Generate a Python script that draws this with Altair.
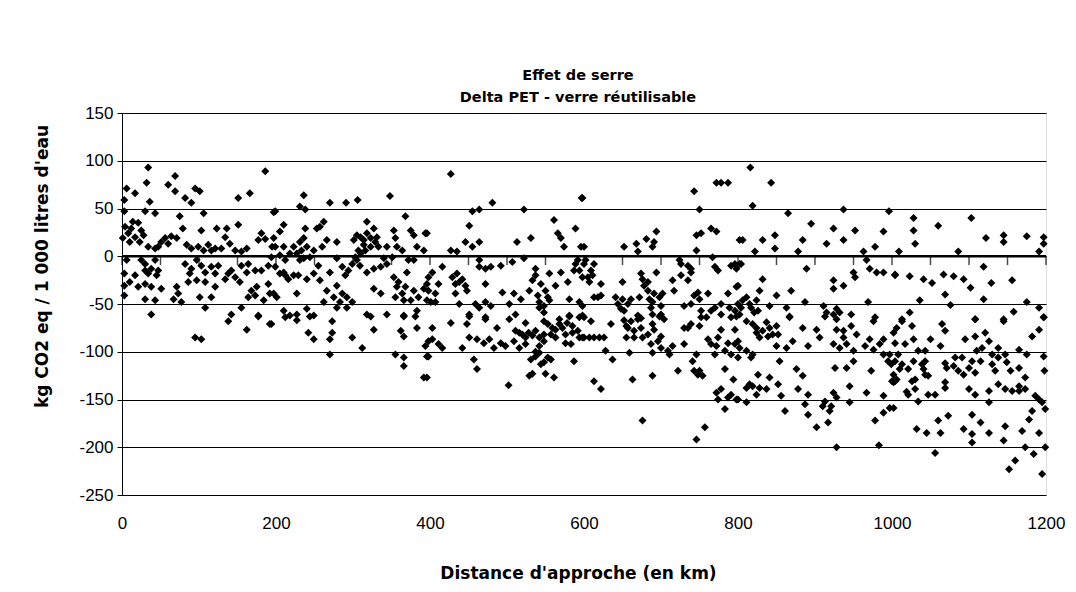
import altair as alt
import pandas as pd

# Distance d'approche (km) and greenhouse delta (kg CO2 eq / 1 000 l), PET minus reusable glass
distance_km = [
    34, 186, 69, 32, 6, 17, 60, 69, 95, 101, 82, 151, 166, 36, 3, 90, 197, 3, 30, 43,
    75, 79, 106, 21, 12, 25, 8, 17, 1, 103, 123, 136, 151, 56, 64, 60, 51, 134, 140, 181,
    177, 186, 34, 43, 90, 99, 112, 116, 147, 155, 195, 6, 30, 38, 34, 47, 17, 3, 82, 90,
    103, 116, 125, 138, 147, 142, 155, 164, 173, 181, 190, 30, 38, 21, 51, 71, 73, 86, 97, 108,
    121, 116, 168, 173, 164, 190, 192, 3, 43, 30, 101, 77, 38, 142, 155, 177, 108,
    95, 103, 138, 162, 177, 192,
    4, 14, 28, 10, 23, 71, 47, 84, 106, 121, 129, 162, 25, 43, 45, 30, 97, 108, 121, 88,
    134, 162, 153, 175, 184, 10, 3, 67,
    236, 231, 238, 270, 291, 306, 348, 199, 368, 210, 205, 238, 253, 262, 257, 318, 327, 353, 375, 379,
    394, 197, 199, 210, 231, 240, 236, 249, 260, 266, 279, 301, 310, 314, 323, 331, 344, 355, 357, 383,
    392, 227, 236, 279, 307, 303, 299, 294, 290, 199, 205, 212, 223, 240, 249, 255, 270, 257, 318, 327,
    336, 344, 353, 370, 379, 197, 201, 227, 266, 279, 275, 292, 327, 336, 357, 364, 366, 379, 392, 396,
    262, 279, 292, 240, 218, 249, 318, 344, 366, 383,
    305, 314, 318, 323, 329, 333, 316, 310, 223, 218, 233, 244, 231, 194, 205, 212, 210, 216, 229, 286,
    305, 309, 351, 364, 372, 340, 359, 368, 375, 385, 355, 286, 283, 299, 210, 227,
    194, 212, 227, 244, 273, 242, 249, 273, 270, 299, 270, 312, 327, 323, 362, 366, 383, 355, 366, 366,
    394, 396, 392, 366, 381,
    427, 597, 481, 455, 464, 522, 561, 451, 589, 396, 566, 570, 574, 513, 531, 446, 455, 464, 427, 435,
    596, 464, 522, 589, 594, 598, 416, 398, 435, 438, 446, 433, 472, 472, 492, 507,
    537, 537, 555, 570, 411, 398, 579, 563, 494, 509, 518, 529, 540, 550, 555, 581, 594, 433, 438, 407,
    459, 472, 503, 542, 548, 451, 472, 511, 581, 598,
    403, 396, 407, 401, 429, 442, 448, 464, 479, 533, 544, 553, 542, 548, 587, 592, 464, 479,
    403, 427, 451, 472, 448, 503, 524, 548, 568, 581, 594, 398, 411, 442, 461, 470, 483, 487, 492, 509,
    516, 524, 533, 542, 548, 557, 563, 572, 576, 585, 598, 583, 398, 457, 461, 396, 531, 542, 548, 557,
    587, 529, 533, 550, 561, 502,
    511, 520, 528, 537, 548, 559, 568, 578, 585, 592, 553, 524, 542, 563, 576, 594, 516, 537, 403, 416,
    451, 477, 498, 537, 544, 553,
    598, 778, 772, 787, 743, 750, 694, 681, 691, 689, 668, 652, 600, 746, 752, 765, 772, 802, 746, 670,
    724, 735, 767, 770, 796, 798, 600, 609, 605, 613, 694, 715, 726, 739, 735, 774, 676, 678, 683,
    650, 622, 717, 743, 748, 761, 787, 798, 613, 622, 641, 650, 672, 691, 702, 685, 730, 739, 598, 648,
    657, 687, 689, 700, 752, 770, 778, 796, 670, 600,
    602, 611, 607, 674, 683, 689, 698, 700, 726, 739, 791, 802, 750, 765, 778, 789, 800, 759, 791, 618,
    644, 652, 661,
    609, 635, 655, 661, 670, 689, 698, 704, 735, 752, 750, 778, 796, 798, 600, 613, 626, 655, 665, 676,
    687, 700, 696, 715, 730, 761, 772, 787, 800, 628, 637, 659, 689, 711, 741, 746, 770, 800, 722, 748,
    750, 783, 794, 613, 622, 663, 689, 778, 774, 787, 798, 783, 676, 757, 746,
    607, 620, 657, 665, 674, 683, 691, 700, 709, 652, 674, 739, 730, 743, 754, 765, 774, 783, 791, 796,
    772, 791,
    816, 843, 819, 865, 937, 996, 895, 924, 952, 989, 848, 806, 832, 884, 915, 937, 978, 848, 822, 878,
    963, 804, 967, 889, 950, 952, 971, 980, 989, 1004, 832, 924, 937, 924, 800, 828,
    850, 869, 806, 815, 824, 821, 841, 863, 887, 911, 924, 932, 947, 969, 978, 802, 867,
    804, 811, 817, 826, 915, 928,
    811, 824, 832, 841, 828, 845, 867, 884, 902, 906, 913, 928, 937, 947, 954, 971, 976, 989, 1002, 802,
    819, 850, 863, 871, 891, 924, 932, 965, 976, 984, 997, 854, 876, 884, 926, 941, 950, 973, 999, 826,
    841, 852, 811, 819, 837, 878, 891, 924, 928, 945, 967, 989, 1002, 800, 811, 856, 945, 887, 910, 919,
    861, 891, 917, 902, 978, 989, 997, 928, 983,
    819, 837, 850, 852, 839, 824, 811, 817, 928, 937, 941, 950, 989, 995, 1002, 1000, 815, 828, 824, 913,
    921,
    1028, 1028, 1030, 1060, 1103, 1122, 1145, 1145, 1175, 1197, 1197, 1009, 1086, 1191, 1004, 1023, 1041, 1052, 1067,
    1080, 1093, 1102, 1119, 1129, 1156, 1069, 1036, 1076, 1119, 1175, 1191, 1023, 1158, 1197, 1013, 1108, 1145,
    1013, 1026, 1006, 1065, 1069, 1108, 1145, 1197, 1191, 1182, 1004, 1017, 1028, 1050, 1063, 1095, 1108, 1121, 1126, 1117,
    1034, 1043, 1138, 1147, 1165, 1175, 1197, 1004, 1010, 1028, 1043, 1041, 1069, 1080, 1091, 1100, 1108, 1115, 1130, 1134,
    1154, 1165, 1198, 1004, 1030, 1047, 1069, 1069, 1100, 1108, 1126, 1138, 1147, 1165, 1173, 1173, 1021, 1034, 1056, 1126,
    1186, 1195, 1002, 1104, 1073, 1060, 1115, 1182, 1178, 1199, 1032, 1045, 1063, 1093, 1104, 1104, 1126, 1147, 1145, 1169,
    1191, 1056, 1173, 1184, 1199, 1160, 1152, 1195,
    1008, 1013, 1021, 1026, 1030, 1039, 1043, 1047, 1006, 1019, 1071, 1082, 1086, 1093, 1104, 1110, 1130, 1138, 1149, 1156,
    1165, 1191,
]

delta_co2 = [
    93, 89, 84, 77, 71, 66, 75, 68, 71, 68, 61, 61, 66, 57, 59, 56, 46, 47, 47, 45,
    42, 29, 45, 35, 29, 27, 24, 20, 19, 27, 29, 29, 33, 19, 21, 13, 15, 20, 13, 24,
    17, 18, 10, 8, 8, 10, 12, 6, 6, 5, 10, -4, -8, -13, -18, -15, -20, -18, -8, -13,
    -10, -11, -10, -18, -22, -15, -10, -8, -15, -15, -10, -29, -32, -32, -34, -32, -39, -27, -25, -27,
    -32, -43, -36, -41, -43, -29, -39, -41, -46, -45, -43, -48, -61, -61, -54, -62, -54,
    -85, -87, -68, -77, -63, -71,
    31, 36, 22, 15, 15, 19, 10, 12, 6, 8, 8, 8, -4, -4, -20, -15, -4, -17, -18, -18,
    -24, -17, -27, -32, -46, -27, -31, -45,
    64, 52, 49, 56, 56, 59, 63, 47, 42, 33, 26, 29, 29, 36, 31, 36, 29, 27, 27, 22,
    24, 19, 10, 10, 15, 10, 19, 6, 10, 17, 15, 17, 20, 12, 19, 20, 10, 19, 10, 10,
    6, 3, -2, -2, 6, -1, -8, -15, -20, -11, -18, -20, -20, -24, -18, -10, -17, -25, -17, -13,
    -11, -8, -22, -17, -4, -39, -43, -39, -36, -31, -43, -43, -34, -39, -32, -39, -46, -36, -34, -46,
    -48, -54, -54, -55, -62, -62, -61, -61, -62, -57,
    22, 17, 24, 10, 15, 10, 6, 3, 10, 3, 6, -1, -4, -1, 1, -4, -17, -24, -20, -11,
    -4, -10, -1, 6, -4, -2, -27, -32, -46, -43, -43, -39, -48, -48, -57, -61,
    -71, -64, -67, -63, -68, -80, -87, -80, -87, -85, -103, -96, -77, -63, -78, -84, -75, -103, -106, -115,
    -94, -105, -127, -63, -63,
    86, 61, 56, 47, 49, 49, 38, 32, 29, 24, 24, 19, 10, 15, 19, 15, 10, 15, 6, 5,
    10, -4, -2, -8, -15, -22, -11, -22, -18, -27, -31, -29, -13, -29, -10, -6,
    -13, -20, -18, -17, -29, -36, -27, -31, -38, -39, -45, -36, -41, -36, -46, -45, -48, -39, -50, -48,
    -50, -48, -50, -54, -59, -61, -64, -61, -62, -62,
    -17, -29, -39, -48, -22, -24, -36, -11, -11, -25, -29, -43, -48, -52, -15, -4, -54, -52,
    -75, -70, -63, -66, -71, -66, -70, -68, -66, -63, -64, -89, -92, -96, -87, -91, -96, -75, -91, -89,
    -80, -85, -83, -85, -89, -82, -77, -75, -82, -80, -85, -92, -105, -108, -118, -127, -108, -101, -111, -108,
    -110, -125, -123, -123, -127, -135,
    -78, -82, -80, -78, -82, -75, -71, -70, -73, -78, -71, -92, -94, -85, -91, -85, -96, -100, -87, -96,
    -85, -87, -94, -105, -113, -106,
    61, 77, 77, 77, 68, 49, 26, 18, 15, 10, 13, 10, 10, 22, 24, 29, 26, 17, 6, 5,
    -4, -10, -1, -11, -8, -13, -8, -15, -22, -8, -17, -25, -20, -17, -25, -15, -24, -31, -27,
    -27, -29, -36, -41, -38, -39, -39, -32, -43, -41, -43, -45, -43, -39, -39, -45, -52, -50, -52, -55,
    -50, -54, -61, -61, -57, -54, -50, -57, -62, -64,
    -4, -20, -27, -18, -36, -48, -43, -52, -8, -13, -10, -8, -45, -57, -61, -54, -50, -64, -64, -43,
    -50, -57, -45,
    -68, -71, -73, -68, -66, -71, -63, -66, -75, -64, -73, -77, -77, -63, -85, -85, -85, -85, -85, -85,
    -92, -84, -89, -94, -92, -87, -94, -91, -89, -99, -108, -101, -101, -103, -110, -103, -103, -106, -120, -124,
    -120, -118, -129, -131, -139, -129, -125, -139, -150, -148, -150, -160, -172, -179, -192,
    -85, -85, -75, -78, -75, -82, -77, -96, -99, -67, -65, -71, -75, -120, -125, -92, -85, -99, -103, -92,
    -143, -145,
    93, 77, 53, 45, 49, 47, 34, 29, 27, 26, 22, 17, 17, 17, 13, 17, 10, 8, 5, 5,
    5, -8, -4, -13, -17, -22, -13, -17, -17, -20, -24, -25, -31, -34, -31, -36,
    -41, -36, -46, -50, -46, -59, -52, -54, -48, -52, -61, -59, -61, -48, -64, -61, -64,
    -54, -43, -54, -57, -59, -55,
    -68, -75, -78, -75, -85, -82, -63, -75, -77, -85, -63, -66, -78, -73, -82, -87, -68, -87, -80, -96,
    -103, -94, -96, -89, -94, -92, -96, -94, -98, -92, -103, -110, -118, -125, -117, -117, -110, -120, -113, -124,
    -127, -134, -138, -136, -139, -139, -145, -143, -148, -136, -143, -146, -132, -150, -153, -146, -153, -155, -157, -162,
    -162, -166, -174, -179, -172, -164, -159, -200, -198,
    -71, -69, -73, -82, -84, -80, -99, -106, -77, -85, -92, -99, -103, -110, -124, -131, -134, -138, -145, -152,
    -157,
    40, 27, 13, 32, 40, 19, 22, 15, 21, 20, 13, 5, 5, 5, -19, -21, -24, -28, -19,
    -21, -24, -33, -11, -28, -25, -40, -46, -51, -45, -48, -54, -59, -58, -64, -66, -66, -66,
    -68, -73, -75, -71, -78, -66, -68, -64, -77, -84, -91, -92, -87, -87, -94, -87, -84, -80, -89, -96,
    -99, -99, -96, -103, -98, -103, -105, -110, -118, -110, -110, -118, -112, -115, -106, -117, -122, -110, -113, -120,
    -120, -117, -120, -131, -129, -125, -132, -138, -139, -145, -141, -134, -139, -141, -127, -139, -145, -152, -145, -153,
    -146, -153, -159, -166, -167, -172, -174, -162, -171, -160, -181, -185, -185, -181, -186, -195, -185, -178, -193, -183,
    -185, -206, -200, -207, -200, -214, -223, -228,
    -103, -113, -118, -131, -139, -113, -124, -145, -129, -142, -117, -106, -120, -124, -110, -99, -103, -106, -111, -141,
    -136, -150,
]

x_labels = [0, 200, 400, 600, 800, 1000, 1200]
x_minor_ticks = [0, 50, 100, 150, 200, 250, 300, 350, 400, 450, 500, 550, 600,
                 650, 700, 750, 800, 850, 900, 950, 1000, 1050, 1100, 1150, 1200]
y_ticks = [150, 100, 50, 0, -50, -100, -150, -200, -250]

n = min(len(distance_km), len(delta_co2))
points = pd.DataFrame({"distance": distance_km[:n], "delta": delta_co2[:n]})
zero_line = pd.DataFrame({"y": [0]})
zero_ticks = pd.DataFrame({"distance": x_minor_ticks})

LABEL_FONT = "Liberation Sans"
TITLE_FONT = "DejaVu Sans"

x_scale = alt.Scale(domain=[0, 1200], nice=False, zero=False)
y_scale = alt.Scale(domain=[-250, 150], nice=False, zero=False)

# plain number text: hyphen minus, no thousands separator
plain_label = "'' + datum.value"

scatter = alt.Chart(points).mark_point(
    shape="diamond", filled=True, color="black", size=64, opacity=1
).encode(
    x=alt.X(
        "distance:Q",
        scale=x_scale,
        axis=alt.Axis(
            values=x_labels, grid=False, ticks=False, domain=False,
            labelExpr=plain_label, labelFlush=False, labelOverlap=False,
            labelFont=LABEL_FONT, labelFontSize=17, labelColor="black", labelPadding=20,
            title="Distance d'approche (en km)", titleFont=TITLE_FONT, titleFontSize=17,
            titleFontWeight="bold", titleColor="black",
            titleX=456, titleY=78, titleBaseline="middle", titleAlign="center",
        ),
    ),
    y=alt.Y(
        "delta:Q",
        scale=y_scale,
        axis=alt.Axis(
            values=y_ticks, grid=True, gridColor="black", gridWidth=1, gridOpacity=1,
            domain=True, domainColor="black", domainWidth=1,
            ticks=True, tickColor="black", tickSize=5, tickWidth=1,
            labelExpr=plain_label, labelFlush=False, labelOverlap=False,
            labelFont=LABEL_FONT, labelFontSize=17, labelColor="black", labelPadding=4,
            title="kg CO2 eq / 1 000 litres d'eau", titleFont=TITLE_FONT, titleFontSize=17,
            titleFontWeight="bold", titleColor="black", titleAngle=270,
            titleX=-80, titleY=153, titleAlign="center", titleBaseline="middle",
        ),
    ),
)

zero_rule = alt.Chart(zero_line).mark_rule(color="black", strokeWidth=2.5).encode(
    y=alt.Y("y:Q", scale=y_scale)
)

# tick marks hanging below the zero line every 50 km
ticks_on_zero = alt.Chart(zero_ticks).mark_tick(
    color="black", orient="vertical", size=9, thickness=1.5
).encode(
    x=alt.X("distance:Q", scale=x_scale),
    y=alt.datum(-4.5, scale=y_scale),
)

chart = alt.layer(zero_rule, ticks_on_zero, scatter).properties(
    width=924,
    height=382,
    title=alt.TitleParams(
        text=["Effet de serre", "Delta PET - verre réutilisable"],
        font=TITLE_FONT, fontSize=14.5, fontWeight="bold", color="black",
        anchor="middle", dx=-6, dy=3, offset=2, lineHeight=22,
    ),
    autosize=alt.AutoSizeParams(type="none"),
    padding={"left": 122, "top": 113, "right": 30, "bottom": 97},
).configure_view(
    stroke="#808080", strokeWidth=1
).configure(background="white")

chart.save("out.html", embed_options={"renderer": "svg", "actions": False})
